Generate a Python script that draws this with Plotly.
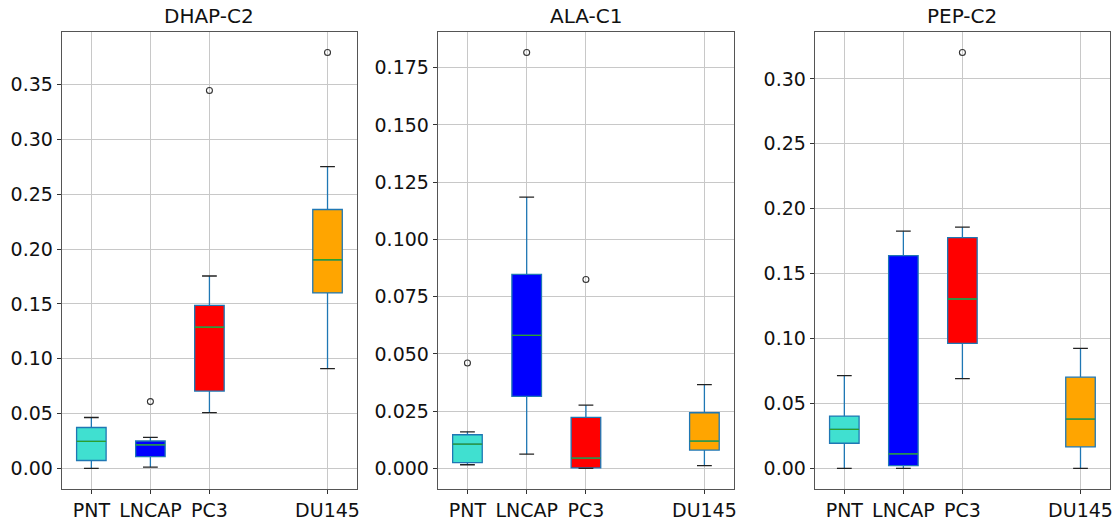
import plotly.graph_objects as go

# Cell lines and their x positions (DU145 is placed at 5, leaving a gap at 4)
groups = ["PNT", "LNCAP", "PC3", "DU145"]
positions = [1, 2, 3, 5]
fill_colors = ["#40E0D0", "#0000FF", "#FF0000", "#FFA500"]

titles = ["DHAP-C2", "ALA-C1", "PEP-C2"]

# DHAP-C2 box statistics
dhap_low = [0.0, 0.0012, 0.0509, 0.0910]
dhap_q1 = [0.0072, 0.0108, 0.0705, 0.1600]
dhap_median = [0.0247, 0.0214, 0.1287, 0.1902]
dhap_q3 = [0.0373, 0.0250, 0.1486, 0.2360]
dhap_high = [0.0464, 0.0283, 0.1754, 0.2751]
dhap_out_group = ["LNCAP", "PC3", "DU145"]
dhap_out_value = [0.0609, 0.3445, 0.3791]

# ALA-C1 box statistics
ala_low = [0.0016, 0.0062, 0.0, 0.0012]
ala_q1 = [0.0025, 0.0315, 0.0002, 0.0080]
ala_median = [0.0106, 0.0581, 0.0045, 0.0119]
ala_q3 = [0.0147, 0.0847, 0.0223, 0.0243]
ala_high = [0.0160, 0.1185, 0.0276, 0.0366]
ala_out_group = ["PNT", "LNCAP", "PC3"]
ala_out_value = [0.0460, 0.1816, 0.0825]

# PEP-C2 box statistics
pep_low = [0.0, 0.0, 0.0691, 0.0]
pep_q1 = [0.0194, 0.0021, 0.0963, 0.0166]
pep_median = [0.0301, 0.0112, 0.1305, 0.0380]
pep_q3 = [0.0403, 0.1639, 0.1777, 0.0703]
pep_high = [0.0714, 0.1827, 0.1858, 0.0925]
pep_out_group = ["PC3"]
pep_out_value = [0.3203]

# y tick values per panel
dhap_ticks = [0.0, 0.05, 0.10, 0.15, 0.20, 0.25, 0.30, 0.35]
ala_ticks = [0.0, 0.025, 0.05, 0.075, 0.10, 0.125, 0.15, 0.175]
pep_ticks = [0.0, 0.05, 0.10, 0.15, 0.20, 0.25, 0.30]

panels = [
    (dhap_low, dhap_q1, dhap_median, dhap_q3, dhap_high, dhap_out_group, dhap_out_value, dhap_ticks, ".2f"),
    (ala_low, ala_q1, ala_median, ala_q3, ala_high, ala_out_group, ala_out_value, ala_ticks, ".3f"),
    (pep_low, pep_q1, pep_median, pep_q3, pep_high, pep_out_group, pep_out_value, pep_ticks, ".2f"),
]

W, H = 1120, 521
x_domains = [(62 / W, 358 / W), (439 / W, 736 / W), (817 / W, 1113 / W)]
y_domain = ((H - 493) / H, (H - 32) / H)

BOX_W = 0.5
CAP_W = 0.25
EDGE = "#1f77b4"
MEDIAN = "#2ca02c"
FONT = "DejaVu Sans"
TEXT = "#111111"

fig = go.Figure()
layout = {}
pos_of = dict(zip(groups, positions))

for i, (low, q1, med, q3, high, og, ov, ticks, fmt) in enumerate(panels):
    n = "" if i == 0 else str(i + 1)
    xa, ya = "x" + n, "y" + n
    for g, p, c, lo, a, m, b, hi in zip(groups, positions, fill_colors, low, q1, med, q3, high):
        fig.add_trace(go.Box(
            x=[p], q1=[a], median=[m], q3=[b], lowerfence=[lo], upperfence=[hi],
            width=BOX_W, whiskerwidth=0, fillcolor=c,
            line=dict(color=EDGE, width=1.3), boxpoints=False,
            showlegend=False, name=g, xaxis=xa, yaxis=ya,
        ))
        # median line
        fig.add_trace(go.Scatter(
            x=[p - BOX_W / 2, p + BOX_W / 2], y=[m, m], mode="lines",
            line=dict(color=MEDIAN, width=1.3), showlegend=False,
            hoverinfo="skip", xaxis=xa, yaxis=ya,
        ))
        # whisker caps
        for v in (lo, hi):
            fig.add_trace(go.Scatter(
                x=[p - CAP_W / 2, p + CAP_W / 2], y=[v, v], mode="lines",
                line=dict(color="#222222", width=1.3), showlegend=False,
                hoverinfo="skip", xaxis=xa, yaxis=ya,
            ))
    # fliers
    fig.add_trace(go.Scatter(
        x=[pos_of[g] for g in og], y=ov, mode="markers",
        marker=dict(symbol="circle-open", size=6, color="#333333", line=dict(width=1.1)),
        showlegend=False, xaxis=xa, yaxis=ya,
    ))

    all_vals = low + high + ov
    vmin, vmax = min(all_vals), max(all_vals)
    pad = 0.05 * (vmax - vmin)

    axis_common = dict(
        showline=True, linecolor="#555555", linewidth=1.2, mirror=True,
        showgrid=True, gridcolor="#c8c8c8", gridwidth=1,
        ticks="outside", ticklen=4, tickcolor="#333333",
        tickfont=dict(family=FONT, size=19, color=TEXT),
        zeroline=False,
    )
    layout["xaxis" + n] = dict(
        axis_common, domain=x_domains[i], range=[0.5, 5.5],
        tickmode="array", tickvals=positions, ticktext=groups,
        anchor=ya,
    )
    layout["yaxis" + n] = dict(
        axis_common, domain=y_domain, range=[vmin - pad, vmax + pad],
        tickmode="array", tickvals=ticks, tickformat=fmt,
        anchor=xa,
    )

annotations = []
for i, t in enumerate(titles):
    annotations.append(dict(
        text=t, xref="paper", yref="paper",
        x=(x_domains[i][0] + x_domains[i][1]) / 2, y=y_domain[1],
        xanchor="center", yanchor="bottom", yshift=2, showarrow=False,
        font=dict(family=FONT, size=20, color=TEXT),
    ))

fig.update_layout(
    width=W, height=H,
    margin=dict(l=0, r=0, t=0, b=0),
    paper_bgcolor="white", plot_bgcolor="white",
    boxmode="overlay",
    annotations=annotations,
    **layout,
)

fig.write_html("out.html")
